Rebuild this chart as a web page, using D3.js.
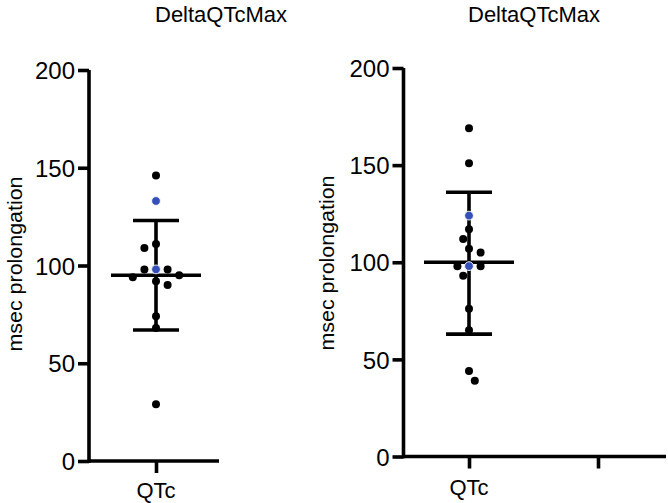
<!DOCTYPE html>
<html>
<head>
<meta charset="utf-8">
<script src="https://cdn.jsdelivr.net/npm/d3@7"></script>
<style>
  html, body { margin: 0; padding: 0; background: #fff; }
  svg { display: block; }
</style>
</head>
<body>
<svg id="chart" width="668" height="503"></svg>
<script>
// ---- data ----
const title = "DeltaQTcMax";
const yLabel = "msec prolongation";
const yTicks = [0, 50, 100, 150, 200];
const leftCategories = ["QTc"];
const rightCategories = ["QTc", " "];

const leftBlack = [146, 111, 109, 98, 98, 95, 94, 92, 90, 74, 68, 29];
const leftBlue = [133, 98];
const leftMean = [95];
const leftUpper = [123];
const leftLower = [67];

const rightBlack = [169, 151, 117, 112, 107, 105, 98, 98, 93, 76, 65, 44, 39];
const rightBlue = [124, 98];
const rightMean = [100];
const rightUpper = [136];
const rightLower = [63];

// ---- layout ----
const svg = d3.select("#chart");
const FONT = "'Liberation Sans', Arial, sans-serif";
const AXIS_W = 3.6;
const BLUE = "#3550b8";

const panels = [
  { cats: leftCategories, black: leftBlack, blue: leftBlue, mean: leftMean, upper: leftUpper, lower: leftLower,
    axisX: 89, y0: 461, y1: 70, xEnd: 219, xRange: [89, 223],
    ylabX: 16, ylabY: 264, titleX: 221, titleY: 22, catY: 498 },
  { cats: rightCategories, black: rightBlack, blue: rightBlue, mean: rightMean, upper: rightUpper, lower: rightLower,
    axisX: 403.5, y0: 456.5, y1: 68, xEnd: 666, xRange: [404.5, 662.5],
    ylabX: 328, ylabY: 263, titleX: 534, titleY: 22, catY: 495 }
];

// greedy beeswarm: step h px, minimum centre distance D px, alternating preferred side
function swarm(nodes, cx, h, D) {
  const placed = [];
  let side = -1;
  nodes.forEach(n => {
    for (let k = 0; k < 40; k++) {
      const mag = Math.ceil(k / 2);
      const off = k === 0 ? 0 : (k % 2 ? side : -side) * mag;
      const xx = cx + off * h;
      const ok = placed.every(p => Math.hypot(p.x - xx, p.y - n.y) >= D);
      if (ok) {
        n.x = xx;
        if (off !== 0) side = off > 0 ? -1 : 1;
        break;
      }
    }
    placed.push(n);
  });
}

panels.forEach(p => {
  const g = svg.append("g");
  const y = d3.scaleLinear().domain([0, 200]).range([p.y0, p.y1]);
  const x = d3.scalePoint().domain(p.cats).range(p.xRange).padding(0.5);

  // y axis
  const ya = g.append("g").attr("transform", `translate(${p.axisX},0)`)
    .call(d3.axisLeft(y).tickValues(yTicks).tickSize(11).tickSizeOuter(0).tickPadding(3));
  ya.select(".domain").attr("stroke", "#000").attr("stroke-width", AXIS_W)
    .attr("d", `M0,${p.y0 + AXIS_W / 2}V${p.y1}`);
  ya.selectAll(".tick line").attr("stroke", "#000").attr("stroke-width", AXIS_W);
  ya.selectAll(".tick text").attr("fill", "#000")
    .style("font-family", FONT).style("font-size", "24px")
    .attr("dy", "0.36em");

  // x axis
  const xa = g.append("g").attr("transform", `translate(0,${p.y0})`)
    .call(d3.axisBottom(x).tickSize(12).tickSizeOuter(0).tickPadding(10));
  xa.select(".domain").attr("stroke", "#000").attr("stroke-width", AXIS_W)
    .attr("d", `M${p.axisX},0H${p.xEnd}`);
  xa.selectAll(".tick line").attr("stroke", "#000").attr("stroke-width", AXIS_W);
  xa.selectAll(".tick text").remove();
  g.selectAll("text.cat").data(p.cats).enter().append("text").attr("class", "cat")
    .attr("x", d => x(d)).attr("y", p.catY).attr("text-anchor", "middle")
    .style("font-family", FONT).style("font-size", "22px").attr("fill", "#000")
    .text(d => d.trim());

  // y label
  g.append("text")
    .attr("transform", `translate(${p.ylabX + 6},${p.ylabY}) rotate(-90)`)
    .attr("text-anchor", "middle")
    .style("font-family", FONT).style("font-size", "20px").attr("fill", "#000")
    .attr("textLength", 175).attr("lengthAdjust", "spacingAndGlyphs")
    .text(yLabel);

  // title
  g.append("text")
    .attr("x", p.titleX).attr("y", p.titleY).attr("text-anchor", "middle")
    .style("font-family", FONT).style("font-size", "22px").attr("fill", "#000")
    .attr("textLength", 132).attr("lengthAdjust", "spacingAndGlyphs")
    .text(title);

  // mean and SD bars
  const cx = x(p.cats[0]);
  const bars = g.append("g").attr("stroke", "#000").attr("stroke-width", 3.6);
  bars.append("line").attr("x1", cx).attr("x2", cx).attr("y1", y(p.lower[0])).attr("y2", y(p.upper[0]));
  bars.append("line").attr("x1", cx - 45).attr("x2", cx + 45).attr("y1", y(p.mean[0])).attr("y2", y(p.mean[0]));
  bars.append("line").attr("x1", cx - 23).attr("x2", cx + 23).attr("y1", y(p.upper[0])).attr("y2", y(p.upper[0]));
  bars.append("line").attr("x1", cx - 23).attr("x2", cx + 23).attr("y1", y(p.lower[0])).attr("y2", y(p.lower[0]));

  // points, placed as a beeswarm
  const nodes = p.black.map(v => ({ v, c: "black" })).concat(p.blue.map(v => ({ v, c: "blue" })));
  nodes.sort((a, b) => (b.v - a.v) || (a.c === "blue" ? -1 : 1));
  nodes.forEach(n => { n.y = y(n.v); });
  swarm(nodes, cx, 5.8, 10);

  g.selectAll("circle.pt").data(nodes).enter().append("circle").attr("class", "pt")
    .attr("cx", d => d.x).attr("cy", d => d.y)
    .attr("r", d => d.c === "blue" ? 4.4 : 4)
    .attr("fill", d => d.c === "blue" ? BLUE : "#000")
    .attr("stroke", d => d.c === "blue" ? "#fff" : "none")
    .attr("stroke-width", 0.9);
});
</script>
</body>
</html>
